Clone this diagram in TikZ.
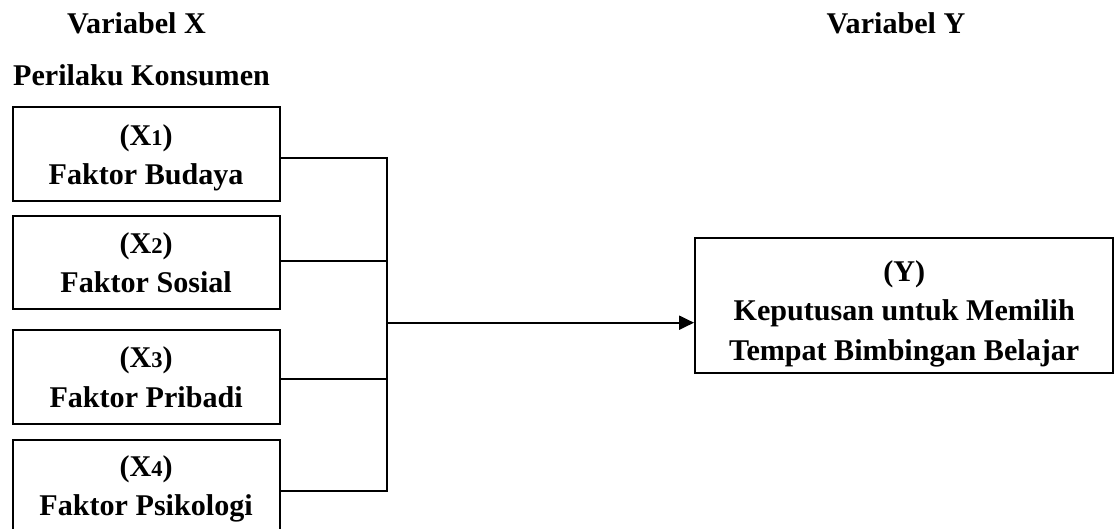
\documentclass[tikz,border=0pt]{standalone}
\usepackage{fontspec}
\setmainfont{Liberation Serif}
\usetikzlibrary{arrows.meta}
\newcommand{\dg}[1]{{\fontsize{22.5}{39.5}\selectfont #1}}
\tikzset{
  every node/.style={font=\fontsize{30.1}{39.5}\selectfont\bfseries},
  xbox/.style={draw, line width=2pt, minimum width=266.8pt, minimum height=93.8pt, inner sep=0pt},
  ybox/.style={draw, line width=2pt, minimum width=418.3pt, minimum height=134.7pt, inner sep=0pt},
  txt/.style={inner sep=0pt, align=center},
  conn/.style={line width=2pt},
  head/.style={anchor=base, inner sep=0pt}
}
\begin{document}
\begin{tikzpicture}[x=1pt,y=-1pt]
\useasboundingbox (0,0) rectangle (1114,529);
\begin{scope}
\clip (0,0) rectangle (1114,529);
\node[head] (hx) at (136.5,34) {Variabel X};
\node[head, anchor=base west] (hp) at (13,86) {Perilaku Konsumen};
\node[head] (hy) at (896,34) {Variabel Y};

\node[xbox] (X1) at (146.1,154) {};
\node[xbox] (X2) at (146.1,262.5) {};
\node[xbox] (X3) at (146.1,377) {};
\node[xbox] (X4) at (146.1,487) {};
\node[ybox] (Y) at (904.2,305.4) {};

\node[txt] (X1t) at ([yshift=-4pt]X1.center) {(X\dg{1})\\Faktor Budaya};
\node[txt] (X2t) at (X2.center) {(X\dg{2})\\Faktor Sosial};
\node[txt] (X3t) at (X3.center) {(X\dg{3})\\Faktor Pribadi};
\node[txt] (X4t) at ([yshift=-2pt]X4.center) {(X\dg{4})\\Faktor Psikologi};
\node[txt] (Yt) at ([yshift=-8pt]Y.center) {(Y)\\Keputusan untuk Memilih\\Tempat Bimbingan Belajar};

\coordinate (j1) at (387,158);
\coordinate (j2) at (387,261);
\coordinate (jm) at (387,322.7);
\coordinate (j3) at (387,379);
\coordinate (j4) at (387,491);

\draw[conn] (X1.east |- j1) -- (j1);
\draw[conn] (X2.east |- j2) -- (j2);
\draw[conn] (X3.east |- j3) -- (j3);
\draw[conn] (X4.east |- j4) -- (j4);
\draw[conn] ([yshift=1pt]j1) -- ([yshift=-1pt]j4);
\draw[conn, -{Triangle[length=15pt,width=14pt]}] (jm) -- (Y.west |- jm);
\end{scope}
\end{tikzpicture}
\end{document}
